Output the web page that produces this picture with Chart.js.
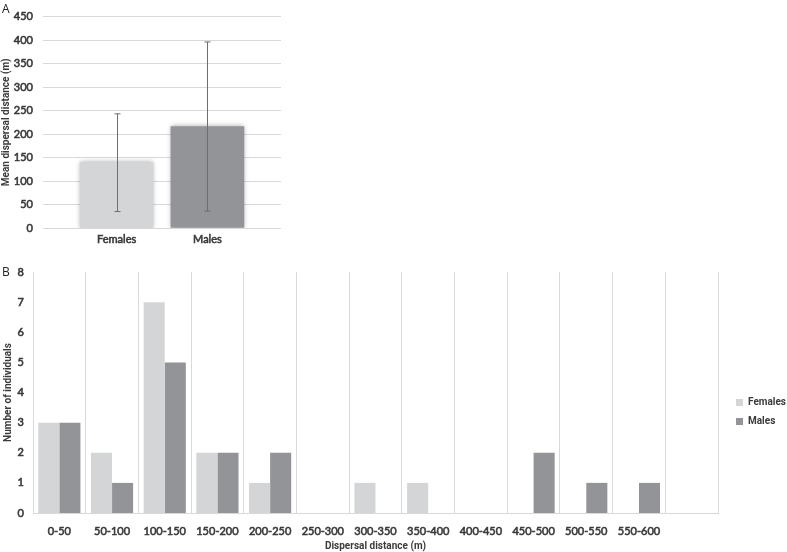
<!DOCTYPE html>
<html>
<head>
<meta charset="utf-8">
<script src="https://cdn.jsdelivr.net/npm/chart.js@4.4.0/dist/chart.umd.min.js"></script>
<style>
  body { margin: 0; background: #fff; }
  .wrap { position: relative; width: 787px; height: 552px; font-family: "Open Sans", sans-serif; }
  .panel { position: absolute; }
  .tag { position: absolute; font-size: 12px; color: #222; }
</style>
</head>
<body>
<div class="wrap">
  <div class="panel" style="left:0;top:0;width:300px;height:255px"><canvas id="chartA"></canvas></div>
  <div class="panel" style="left:0;top:255px;width:787px;height:297px"><canvas id="chartB"></canvas></div>
  <div class="tag" style="left:2px;top:0px">A</div>
  <div class="tag" style="left:2px;top:263px">B</div>
</div>
<script>
// panel A: mean dispersal distance per sex
const sexes = ['Females', 'Males'];
const meanDist = [139, 216];
const errDist = [104, 180];

// panel B: histogram of dispersal distances
const bins = ['0-50', '50-100', '100-150', '150-200', '200-250', '250-300', '300-350',
    '350-400', '400-450', '450-500', '500-550', '550-600', ''];
const femaleCounts = [3, 2, 7, 2, 1, 0, 1, 1, 0, 0, 0, 0];
const maleCounts = [3, 1, 5, 2, 2, 0, 0, 0, 0, 2, 1, 1];

const light = '#d4d5d7';
const dark = '#939497';
const txt = '#3a3a3a';
const gridCol = '#d9d9d9';

Chart.defaults.font.family = 'Lato, sans-serif';
Chart.defaults.font.size = 11;
Chart.defaults.color = txt;

// Lato has no bold face here, so tick labels get a thin stroke
const tickLook = { textStrokeColor: txt, textStrokeWidth: 0.6 };
const titleFont = { family: 'Roboto', weight: 'bold', size: 10 };

// soft edge on the bars of panel A
const softBars = {
    id: 'softBars',
    beforeDatasetsDraw(chart) {
        chart.ctx.save();
        chart.ctx.shadowColor = 'rgba(0,0,0,0.35)';
        chart.ctx.shadowBlur = 5;
    },
    afterDatasetsDraw(chart) {
        chart.ctx.restore();
    }
};

// error bars drawn from the y scale
const errorBars = {
    id: 'errorBars',
    afterDatasetsDraw(chart) {
        const ctx = chart.ctx;
        const y = chart.scales.y;
        const meta = chart.getDatasetMeta(0);
        ctx.save();
        ctx.strokeStyle = '#6e6e6e';
        ctx.lineWidth = 1;
        meta.data.forEach((bar, i) => {
            const top = y.getPixelForValue(meanDist[i] + errDist[i]);
            const bot = y.getPixelForValue(meanDist[i] - errDist[i]);
            const x = Math.round(bar.x) + 0.5;
            ctx.beginPath();
            ctx.moveTo(x, top); ctx.lineTo(x, bot);
            ctx.moveTo(x - 3, top); ctx.lineTo(x + 3, top);
            ctx.moveTo(x - 3, bot); ctx.lineTo(x + 3, bot);
            ctx.stroke();
        });
        ctx.restore();
    }
};

// move the legend of panel B to the right, as in the reference
const legendShift = {
    id: 'legendShift',
    afterLayout(chart) {
        const lg = chart.legend;
        const dx = 736 - (lg.left + lg.options.labels.padding);
        lg.left += dx;
        lg.right += dx;
        lg.legendHitBoxes.forEach(h => { h.left += dx; });
    }
};

new Chart(document.getElementById('chartA'), {
    type: 'bar',
    data: {
        datasets: [{
            data: meanDist.map((v, i) => ({ x: i, y: v })),
            backgroundColor: [light, dark],
            barThickness: 73,
        }]
    },
    options: {
        responsive: true,
        maintainAspectRatio: false,
        animation: false,
        layout: { padding: { top: 7, right: 19, left: 0, bottom: 0 } },
        plugins: { legend: { display: false }, tooltip: { enabled: false } },
        scales: {
            x: {
                type: 'linear',
                offset: false,
                min: -0.81,
                max: 1.81,
                grid: { display: false, drawTicks: false },
                border: { display: false },
                afterBuildTicks: (s) => { s.ticks = sexes.map((c, i) => ({ value: i })); },
                afterFit: (s) => { s.height = 27; },
                ticks: {
                    ...tickLook,
                    padding: 5,
                    callback: (v) => sexes[v]
                }
            },
            y: {
                min: 0,
                max: 450,
                grid: { color: gridCol, drawTicks: false },
                border: { display: false },
                afterFit: (s) => { s.width = 43; },
                ticks: { ...tickLook, stepSize: 50, padding: 10 },
                title: {
                    display: true,
                    text: 'Mean dispersal distance (m)',
                    font: titleFont,
                    padding: { top: 0, bottom: 0 }
                }
            }
        }
    },
    plugins: [softBars, errorBars]
});

new Chart(document.getElementById('chartB'), {
    type: 'bar',
    data: {
        labels: bins,
        datasets: [{
            label: 'Females',
            data: femaleCounts,
            backgroundColor: light,
            barPercentage: 1,
            categoryPercentage: 0.8,
        }, {
            label: 'Males',
            data: maleCounts,
            backgroundColor: dark,
            barPercentage: 1,
            categoryPercentage: 0.8,
        }]
    },
    options: {
        responsive: true,
        maintainAspectRatio: false,
        animation: false,
        layout: { padding: { top: 17, right: 0, left: 0, bottom: 0 } },
        plugins: {
            tooltip: { enabled: false },
            legend: {
                position: 'right',
                labels: {
                    boxWidth: 7,
                    boxHeight: 7,
                    padding: 9,
                    font: { family: 'Roboto', weight: 'bold', size: 10 }
                }
            }
        },
        scales: {
            x: {
                grid: { color: gridCol, offset: true, drawTicks: false },
                border: { color: gridCol },
                afterFit: (s) => { s.height = 39; },
                ticks: { ...tickLook, padding: 12 },
                title: {
                    display: true,
                    text: 'Dispersal distance (m)',
                    font: titleFont,
                    padding: { top: 0, bottom: 0 }
                }
            },
            y: {
                min: 0,
                max: 8,
                grid: { display: false, drawTicks: false },
                border: { display: false },
                afterFit: (s) => { s.width = 33; },
                ticks: { ...tickLook, stepSize: 1, padding: 9 },
                title: {
                    display: true,
                    text: 'Number of individuals',
                    font: titleFont,
                    padding: { top: 2, bottom: 0 }
                }
            }
        }
    },
    plugins: [legendShift]
});
</script>
</body>
</html>
